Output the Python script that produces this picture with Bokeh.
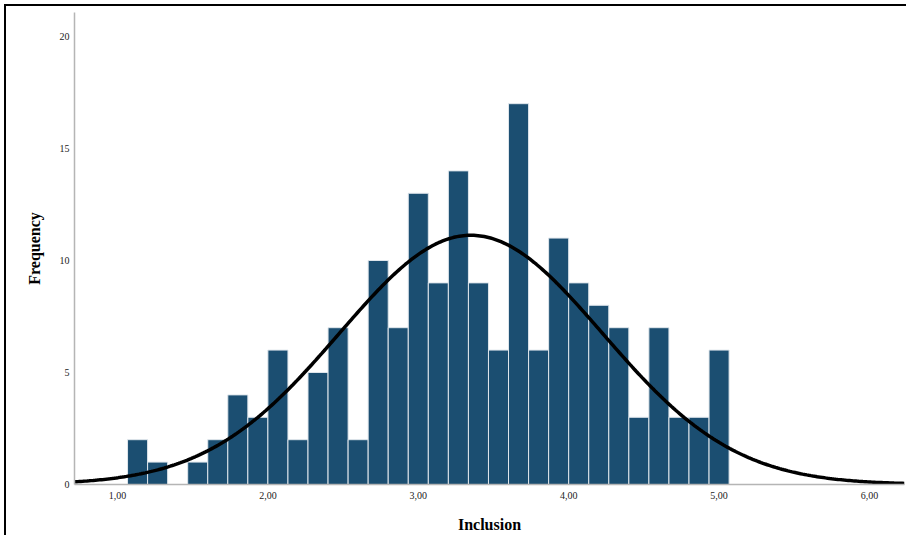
import numpy as np
from bokeh.plotting import figure
from bokeh.models import FixedTicker, Range1d, ColumnDataSource
from bokeh.embed import file_html
from bokeh.resources import INLINE

# ---- data ----
bin_start = 1.0667
bin_width = 2.0 / 15.0
counts = [2, 1, 0, 1, 2, 4, 3, 6, 2, 5, 7, 2, 10, 7, 13, 9, 14, 9, 6, 17,
          6, 11, 9, 8, 7, 3, 7, 3, 3, 6]
fit_mean = 3.35
fit_sd = 0.875
x_ticks = [1, 2, 3, 4, 5, 6]
x_tick_labels = ["1,00", "2,00", "3,00", "4,00", "5,00", "6,00"]
y_ticks = [0, 5, 10, 15, 20]

x_min, x_max = 0.714, 6.233
y_min, y_max = 0, 21.07

n_total = sum(counts)
lefts = bin_start + bin_width * np.arange(len(counts))
rights = lefts + bin_width
bars = ColumnDataSource(dict(left=lefts, right=rights, top=counts, bottom=[0] * len(counts)))

xs = np.linspace(x_min, x_max, 400)
ys = n_total * bin_width / (fit_sd * np.sqrt(2 * np.pi)) * np.exp(-0.5 * ((xs - fit_mean) / fit_sd) ** 2)

p = figure(width=906, height=535, output_backend="svg", toolbar_location=None,
           x_range=Range1d(x_min, x_max), y_range=Range1d(y_min, y_max),
           min_border_left=74, min_border_right=2, min_border_top=12, min_border_bottom=50)
p.styles = {"box-shadow": "inset 4px 4px 0 0 white, inset 6px 6px 0 0 black"}
p.outline_line_color = None
p.xgrid.visible = False
p.ygrid.visible = False
p.background_fill_color = "white"
p.border_fill_color = None

p.quad(left="left", right="right", top="top", bottom="bottom", source=bars,
       fill_color="#1b4e71", line_color="#dfe6ec", line_width=1)
p.line(xs, ys, line_color="black", line_width=3.5)

serif = "Liberation Serif"
for ax in (p.xaxis[0], p.yaxis[0]):
    ax.axis_line_color = "#b5b5b5"
    ax.axis_line_width = 1.5
    ax.major_tick_line_color = None
    ax.minor_tick_line_color = None
    ax.major_tick_out = 0
    ax.major_tick_in = 0
    ax.minor_tick_out = 0
    ax.minor_tick_in = 0
    ax.major_label_text_font = serif
    ax.major_label_text_font_size = "10px"
    ax.major_label_text_color = "#222222"
    ax.axis_label_text_font = serif
    ax.axis_label_text_font_size = "16px"
    ax.axis_label_text_font_style = "bold"
    ax.axis_label_text_color = "black"

p.xaxis.ticker = FixedTicker(ticks=x_ticks)
p.xaxis.major_label_overrides = {t: l for t, l in zip(x_ticks, x_tick_labels)}
p.xaxis.axis_label = "Inclusion"
p.xaxis.major_label_standoff = 7
p.xaxis.axis_label_standoff = 14

p.yaxis.ticker = FixedTicker(ticks=y_ticks)
p.yaxis.axis_label = "Frequency"
p.yaxis.major_label_standoff = 5
p.yaxis.axis_label_standoff = 14

open("out.html", "w").write(file_html(p, INLINE))
